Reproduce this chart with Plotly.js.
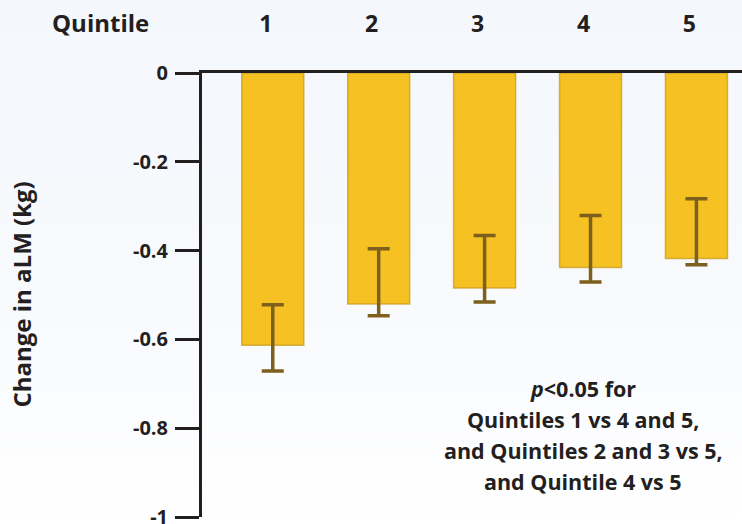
<!DOCTYPE html>
<html>
<head>
<meta charset="utf-8">
<script src="https://cdn.plot.ly/plotly-3.0.1.min.js"></script>
<style>
  html, body { margin: 0; padding: 0; }
  body { width: 742px; height: 524px; background: linear-gradient(to bottom, #f4f7fc 0%, #f8fafd 60%, #ffffff 100%); }
  #chart { width: 742px; height: 524px; }
</style>
</head>
<body>
<div id="chart"></div>
<script>
// Data
const quintiles = ['1', '2', '3', '4', '5'];
const changeALM = [-0.613, -0.520, -0.484, -0.438, -0.418];
const errTop    = [-0.522, -0.396, -0.366, -0.321, -0.283];
const errBottom = [-0.671, -0.547, -0.516, -0.471, -0.432];
const yTickVals = [0, -0.2, -0.4, -0.6, -0.8, -1];
const yTickText = ['0', '-0.2', '-0.4', '-0.6', '-0.8', '-1'];
const xAxisLabel = 'Quintile';
const yAxisLabel = 'Change in aLM (kg)';
const noteLines = [
  '<i>p</i><0.05 for',
  'Quintiles 1 vs 4 and 5,',
  'and Quintiles 2 and 3 vs 5,',
  'and Quintile 4 vs 5'
];

const FONT = '"Open Sans", Lato, "Liberation Sans", sans-serif';
const INK = '#231f20';

const plusArr = changeALM.map((v, i) => errTop[i] - v);
const minusArr = changeALM.map((v, i) => v - errBottom[i]);

const trace = {
  type: 'bar',
  x: quintiles,
  y: changeALM,
  marker: {
    color: '#F6C223',
    line: { color: 'rgba(200,155,30,0.75)', width: 1.5 }
  },
  error_y: {
    type: 'data',
    symmetric: false,
    array: plusArr,
    arrayminus: minusArr,
    color: '#7d5f1e',
    thickness: 3.5,
    width: 11
  },
  hoverinfo: 'skip'
};

const annotations = [
  {
    text: '<b>' + xAxisLabel + '</b>',
    xref: 'paper', yref: 'paper',
    x: -0.188, y: 1.113,
    xanchor: 'center', yanchor: 'middle',
    showarrow: false,
    font: { family: FONT, size: 24, color: INK }
  },
  {
    text: '<b>' + yAxisLabel + '</b>',
    xref: 'paper', yref: 'paper',
    x: -0.336, y: 0.5,
    xanchor: 'center', yanchor: 'middle',
    textangle: -90,
    showarrow: false,
    font: { family: FONT, size: 24, color: INK }
  }
];

noteLines.forEach((line, i) => {
  annotations.push({
    text: '<b>' + line + '</b>',
    xref: 'paper', yref: 'paper',
    x: 0.706, y: (517 - (388 + i * 31)) / 444,
    xanchor: 'center', yanchor: 'middle',
    showarrow: false,
    font: { family: FONT, size: 21.5, color: INK }
  });
});

const layout = {
  width: 742,
  height: 524,
  margin: { l: 202, r: 0, t: 73, b: 7, pad: 0 },
  paper_bgcolor: 'rgba(0,0,0,0)',
  plot_bgcolor: 'rgba(0,0,0,0)',
  showlegend: false,
  bargap: 0.415,
  xaxis: {
    type: 'category',
    categoryorder: 'array',
    categoryarray: quintiles,
    side: 'top',
    range: [-0.668, 4.43],
    showline: true,
    linewidth: 3,
    linecolor: INK,
    ticks: '',
    showgrid: false,
    zeroline: false,
    ticklabelstandoff: 29,
    ticklabelshift: -7,
    tickfont: { family: FONT, size: 23, color: INK, weight: 'bold' },
    fixedrange: true
  },
  yaxis: {
    range: [-1, 0],
    tickvals: yTickVals,
    ticktext: yTickText,
    showline: true,
    linewidth: 3,
    linecolor: INK,
    ticks: 'outside',
    ticklen: 24,
    tickwidth: 3,
    tickcolor: INK,
    ticklabelstandoff: 3,
    ticklabeloverflow: 'allow',
    showgrid: false,
    zeroline: false,
    tickfont: { family: FONT, size: 20, color: INK, weight: 'bold' },
    fixedrange: true
  },
  annotations: annotations
};

Plotly.newPlot('chart', [trace], layout, { displayModeBar: false, staticPlot: true });
</script>
</body>
</html>
